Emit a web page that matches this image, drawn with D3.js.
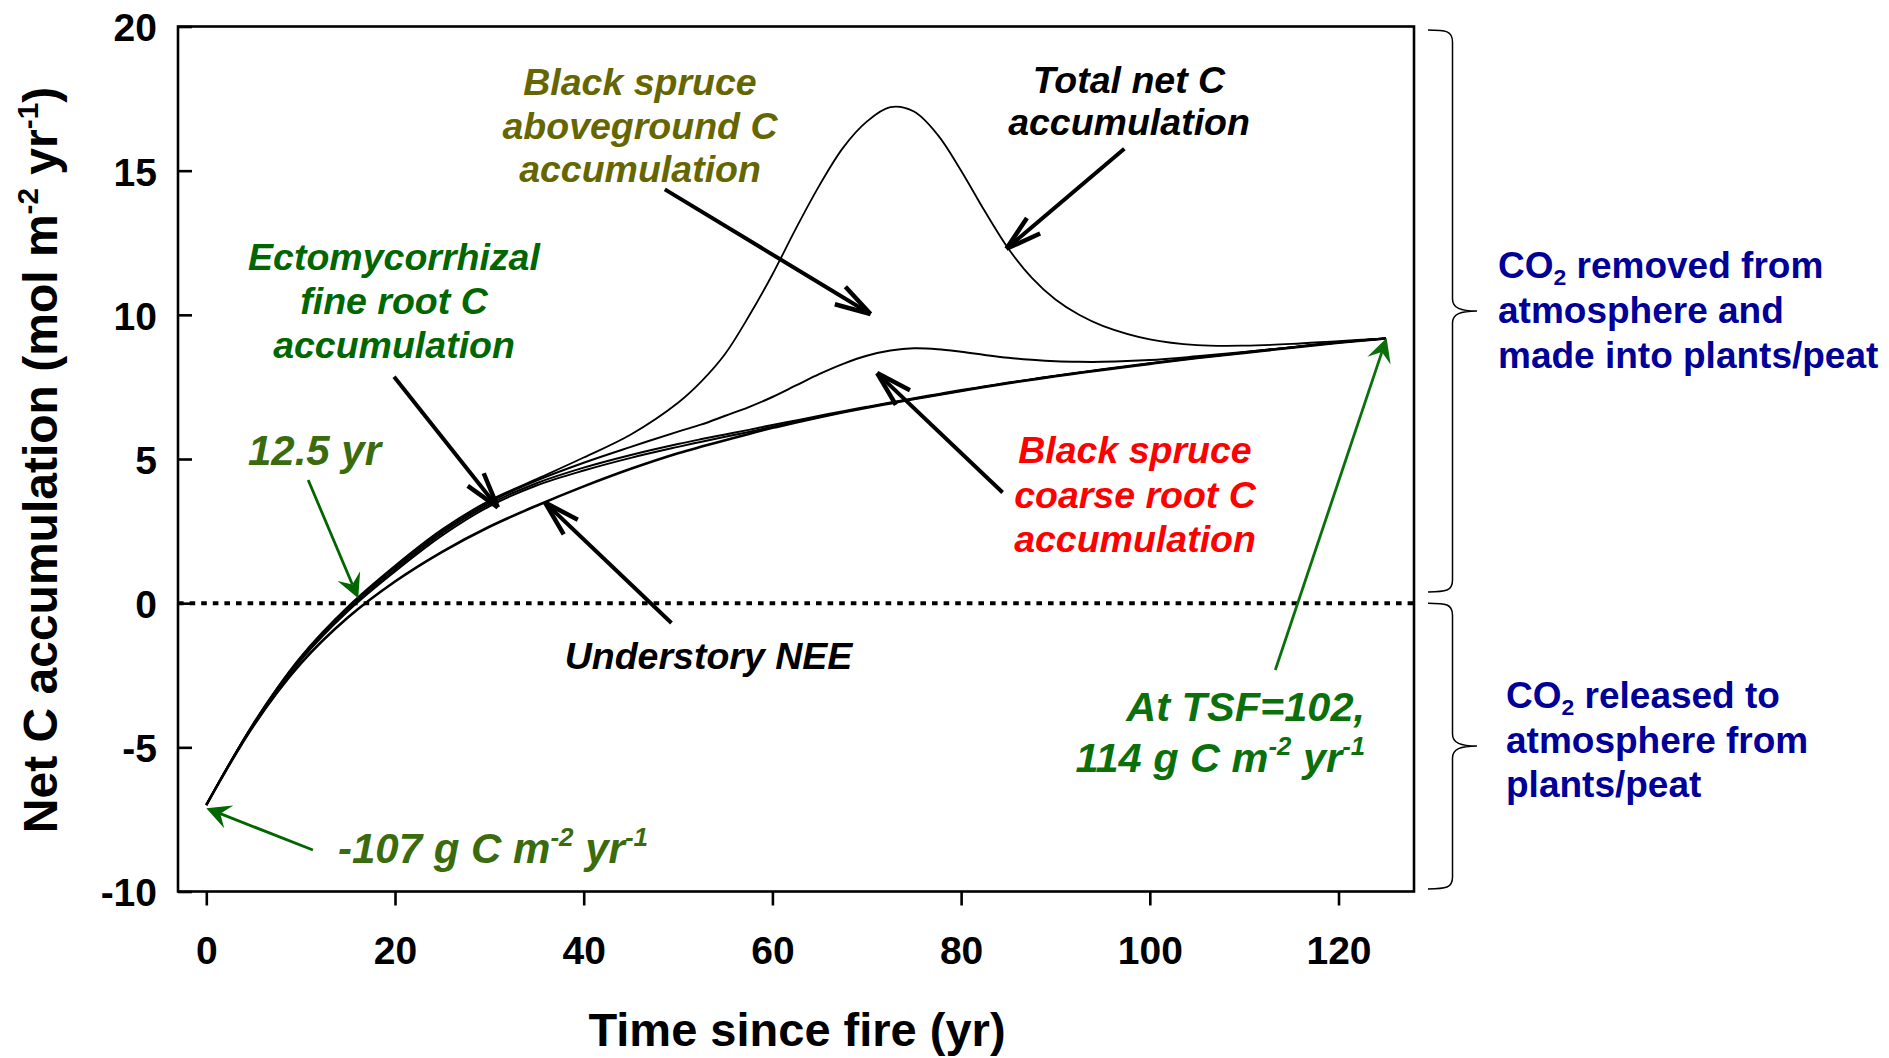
<!DOCTYPE html>
<html><head><meta charset="utf-8">
<script src="https://cdn.jsdelivr.net/npm/d3@7"></script>
<style>
html,body{margin:0;padding:0;background:#fff;}
svg{display:block;}
</style></head><body>
<svg id="chart" width="1889" height="1058"></svg>
<script>
// ---------------- DATA ----------------
const years = [0,5,10,15,20,25,30,35,40,45,50,52.5,55,57.5,60,62.5,65,67.5,70,72.5,75,77.5,80,82.5,85,87.5,90,92.5,95,100,105,110,115,120,125];
const understoryNEE = [-7.0,-4.25,-2.1,-0.5,0.75,1.78,2.65,3.38,4.05,4.66,5.2,5.43,5.65,5.87,6.08,6.27,6.45,6.62,6.78,6.93,7.08,7.22,7.36,7.5,7.63,7.75,7.87,7.98,8.09,8.3,8.5,8.68,8.86,9.03,9.18];
const plusFineRoot = [-7.0,-4.22,-1.98,-0.28,1.1,2.35,3.36,4.08,4.6,5.04,5.42,5.6,5.77,5.94,6.12,6.29,6.46,6.63,6.79,6.94,7.09,7.23,7.37,7.51,7.64,7.76,7.88,7.99,8.1,8.31,8.51,8.69,8.87,9.04,9.18];
const plusEctomycorrhizal = [-7.0,-4.2,-1.94,-0.22,1.17,2.43,3.43,4.16,4.7,5.14,5.52,5.69,5.85,6.01,6.18,6.34,6.5,6.66,6.81,6.96,7.11,7.25,7.39,7.52,7.65,7.77,7.89,8.0,8.11,8.32,8.52,8.7,8.88,9.05,9.18];
const plusCoarseRoot = [-7.0,-4.18,-1.9,-0.16,1.24,2.5,3.5,4.25,4.87,5.42,5.95,6.2,6.5,6.8,7.15,7.55,7.95,8.3,8.58,8.76,8.84,8.81,8.72,8.61,8.51,8.44,8.39,8.37,8.37,8.43,8.56,8.71,8.87,9.04,9.18];
const totalNetC = [-7.0,-4.16,-1.86,-0.12,1.3,2.56,3.56,4.3,5.05,5.85,6.95,7.7,8.65,9.95,11.4,13.0,14.5,15.8,16.7,17.2,17.05,16.25,15.0,13.6,12.3,11.28,10.53,10.0,9.62,9.15,8.95,8.93,8.99,9.09,9.18];
const xTicks = [0,20,40,60,80,100,120];
const yTicks = [-10,-5,0,5,10,15,20];
const braceRanges = [[0.39,19.88],[-9.91,0]];

// ---------------- SETUP ----------------
const FONT = '"Liberation Sans", Arial, Helvetica, sans-serif';
const svg = d3.select('#chart');
const x = d3.scaleLinear().domain([-3,128]).range([178,1414]);
const y = d3.scaleLinear().domain([-10,20]).range([891.5,26.5]);

// zero dotted line
svg.append('line').attr('x1',x(-3)).attr('x2',x(128)).attr('y1',y(0)).attr('y2',y(0))
  .attr('stroke','#000').attr('stroke-width',4).attr('stroke-dasharray','5.6,6');

// series
const series = [
  {values: understoryNEE, w: 2.6},
  {values: plusFineRoot, w: 2.0},
  {values: plusEctomycorrhizal, w: 2.0},
  {values: plusCoarseRoot, w: 2.0},
  {values: totalNetC, w: 1.8}
];
const line = d3.line().x((d,i)=>x(years[i])).y(d=>y(d)).curve(d3.curveCatmullRom.alpha(0.5));
svg.append('g').selectAll('path').data(series).join('path')
  .attr('d', d=>line(d.values)).attr('fill','none').attr('stroke','#000')
  .attr('stroke-width', d=>d.w).attr('stroke-linejoin','round');

// frame
svg.append('rect').attr('x',x(-3)).attr('y',y(20)).attr('width',x(128)-x(-3)).attr('height',y(-10)-y(20))
  .attr('fill','none').attr('stroke','#000').attr('stroke-width',2.6);

// axes
const gy = svg.append('g').attr('transform',`translate(${x(-3)},0)`)
  .call(d3.axisLeft(y).tickValues(yTicks).tickSizeInner(-14).tickSizeOuter(0).tickPadding(21).tickFormat(d=>String(d)));
gy.select('.domain').remove();
gy.attr('font-family',null).attr('font-size',null);
gy.selectAll('line').attr('stroke','#000').attr('stroke-width',2.6);
gy.selectAll('text').attr('font-family',FONT).attr('font-weight','bold').attr('font-size',39).attr('fill','#000').attr('dy','0.37em');

const gx = svg.append('g').attr('transform',`translate(0,${y(-10)})`)
  .call(d3.axisBottom(x).tickValues(xTicks).tickSizeInner(14).tickSizeOuter(0).tickPadding(31).tickFormat(d=>String(d)));
gx.select('.domain').remove();
gx.attr('font-family',null).attr('font-size',null);
gx.selectAll('line').attr('stroke','#000').attr('stroke-width',2.6);
gx.selectAll('text').attr('font-family',FONT).attr('font-weight','bold').attr('font-size',39).attr('fill','#000');

// ---------------- TEXT HELPER ----------------
function addLabel(parent, px, py, lines, o){
  const size=o.size, lh=o.lh||size*1.16;
  lines.forEach((ln,i)=>{
    const t = parent.append('text').attr('x',px).attr('y',py+i*lh)
      .attr('text-anchor',o.anchor||'middle').attr('font-size',size)
      .attr('font-family',FONT).attr('font-weight','bold')
      .attr('font-style',o.italic?'italic':'normal').attr('fill',o.color||'#000');
    let off=0;
    ln.split(/(\^\{[^}]*\}|_\{[^}]*\})/).filter(s=>s.length).forEach(s=>{
      let target=0, txt=s, fs=null;
      if(s.startsWith('^{')){target=-0.4*size; txt=s.slice(2,-1); fs=size*0.62;}
      else if(s.startsWith('_{')){target=0.2*size; txt=s.slice(2,-1); fs=size*0.62;}
      const ts=t.append('tspan').attr('dy',target-off).text(txt);
      if(fs) ts.attr('font-size',fs);
      off=target;
    });
  });
}

// axis titles
addLabel(svg, 797, 1046, ['Time since fire (yr)'], {size:47});
const gyt = svg.append('g').attr('transform','translate(57,460) rotate(-90)');
addLabel(gyt, 0, 0, ['Net C accumulation (mol m^{-2} yr^{-1})'], {size:48});

// annotations
const OLIVE='#666600', GREEN='#006600', LGREEN='#3a6b0c', TGREEN='#0b700b', RED='#ff0000', BLUE='#000099';
addLabel(svg, 640, 95, ['Black spruce','aboveground C','accumulation'], {size:37.5, lh:43.5, italic:true, color:OLIVE});
addLabel(svg, 1129, 92.5, ['Total net C','accumulation'], {size:37.5, lh:42.5, italic:true, color:'#000'});
addLabel(svg, 394, 270, ['Ectomycorrhizal','fine root C','accumulation'], {size:37.5, lh:44, italic:true, color:GREEN});
addLabel(svg, 314.5, 465, ['12.5 yr'], {size:42, italic:true, color:LGREEN});
addLabel(svg, 338, 863, ['-107 g C m^{-2} yr^{-1}'], {size:42, italic:true, color:LGREEN, anchor:'start'});
addLabel(svg, 1135, 463, ['Black spruce','coarse root C','accumulation'], {size:37.5, lh:44.5, italic:true, color:RED});
addLabel(svg, 708.5, 669, ['Understory NEE'], {size:37.5, italic:true, color:'#000'});
addLabel(svg, 1365, 721, ['At TSF=102,','114 g C m^{-2} yr^{-1}'], {size:41.5, lh:51, italic:true, color:TGREEN, anchor:'end'});
addLabel(svg, 1498, 278, ['CO_{2} removed from','atmosphere and','made into plants/peat'], {size:37, lh:45, color:BLUE, anchor:'start'});
addLabel(svg, 1506, 708, ['CO_{2} released to','atmosphere from','plants/peat'], {size:37, lh:44.5, color:BLUE, anchor:'start'});

// ---------------- ARROWS ----------------
const blackArrows = [
  {from:[48.6,14.35], to:[70.4,10.03]},
  {from:[97.3,15.76], to:[84.8,12.29]},
  {from:[19.9,7.85],  to:[30.9,3.32]},
  {from:[49.3,-0.69], to:[35.9,3.49]},
  {from:[84.4,3.84],  to:[71.1,7.98]}
];
const greenArrows = [
  {from:[10.8,4.27],  to:[16.1,0.17], color:GREEN},
  {from:[11.3,-8.56], to:[0.0,-7.11], color:GREEN},
  {from:[113.3,-2.32],to:[125.1,9.2], color:TGREEN}
];
function rot(v,a){return [v[0]*Math.cos(a)-v[1]*Math.sin(a), v[0]*Math.sin(a)+v[1]*Math.cos(a)];}
const ga = svg.append('g');
blackArrows.forEach(a=>{
  const s=[x(a.from[0]),y(a.from[1])], t=[x(a.to[0]),y(a.to[1])];
  const dx=s[0]-t[0], dy=s[1]-t[1], L=Math.hypot(dx,dy), u=[dx/L,dy/L];
  ga.append('line').attr('x1',s[0]).attr('y1',s[1]).attr('x2',t[0]).attr('y2',t[1]).attr('stroke','#000').attr('stroke-width',4);
  [16,-16].forEach(deg=>{
    const r=rot(u,deg*Math.PI/180);
    ga.append('line').attr('x1',t[0]).attr('y1',t[1]).attr('x2',t[0]+r[0]*37).attr('y2',t[1]+r[1]*37)
      .attr('stroke','#000').attr('stroke-width',4.5);
  });
});
greenArrows.forEach(a=>{
  const s=[x(a.from[0]),y(a.from[1])], t=[x(a.to[0]),y(a.to[1])];
  const dx=s[0]-t[0], dy=s[1]-t[1], L=Math.hypot(dx,dy), u=[dx/L,dy/L];
  const notch=[t[0]+u[0]*15, t[1]+u[1]*15];
  ga.append('line').attr('x1',s[0]).attr('y1',s[1]).attr('x2',notch[0]).attr('y2',notch[1]).attr('stroke',a.color).attr('stroke-width',2.8);
  const r1=rot(u,27*Math.PI/180), r2=rot(u,-27*Math.PI/180);
  const pts=[t,[t[0]+r1[0]*27,t[1]+r1[1]*27],notch,[t[0]+r2[0]*27,t[1]+r2[1]*27]];
  ga.append('path').attr('d','M'+pts.map(p=>p.join(',')).join('L')+'Z').attr('fill',a.color);
});

// ---------------- BRACES ----------------
const braceX0=1428, braceX1=1452.5, braceTip=1477;
braceRanges.forEach(r=>{
  const top=y(r[1]), bot=y(r[0]), mid=(top+bot)/2;
  const d=`M${braceX0},${top} C${braceX0+18},${top} ${braceX1},${top+1} ${braceX1},${top+12}
    L${braceX1},${mid-12} C${braceX1},${mid-3} ${braceX1+8},${mid} ${braceTip},${mid}
    C${braceX1+8},${mid} ${braceX1},${mid+3} ${braceX1},${mid+12}
    L${braceX1},${bot-12} C${braceX1},${bot-1} ${braceX0+18},${bot} ${braceX0},${bot}`;
  svg.append('path').attr('d',d).attr('fill','none').attr('stroke','#000').attr('stroke-width',1.5);
});
</script>
</body></html>
